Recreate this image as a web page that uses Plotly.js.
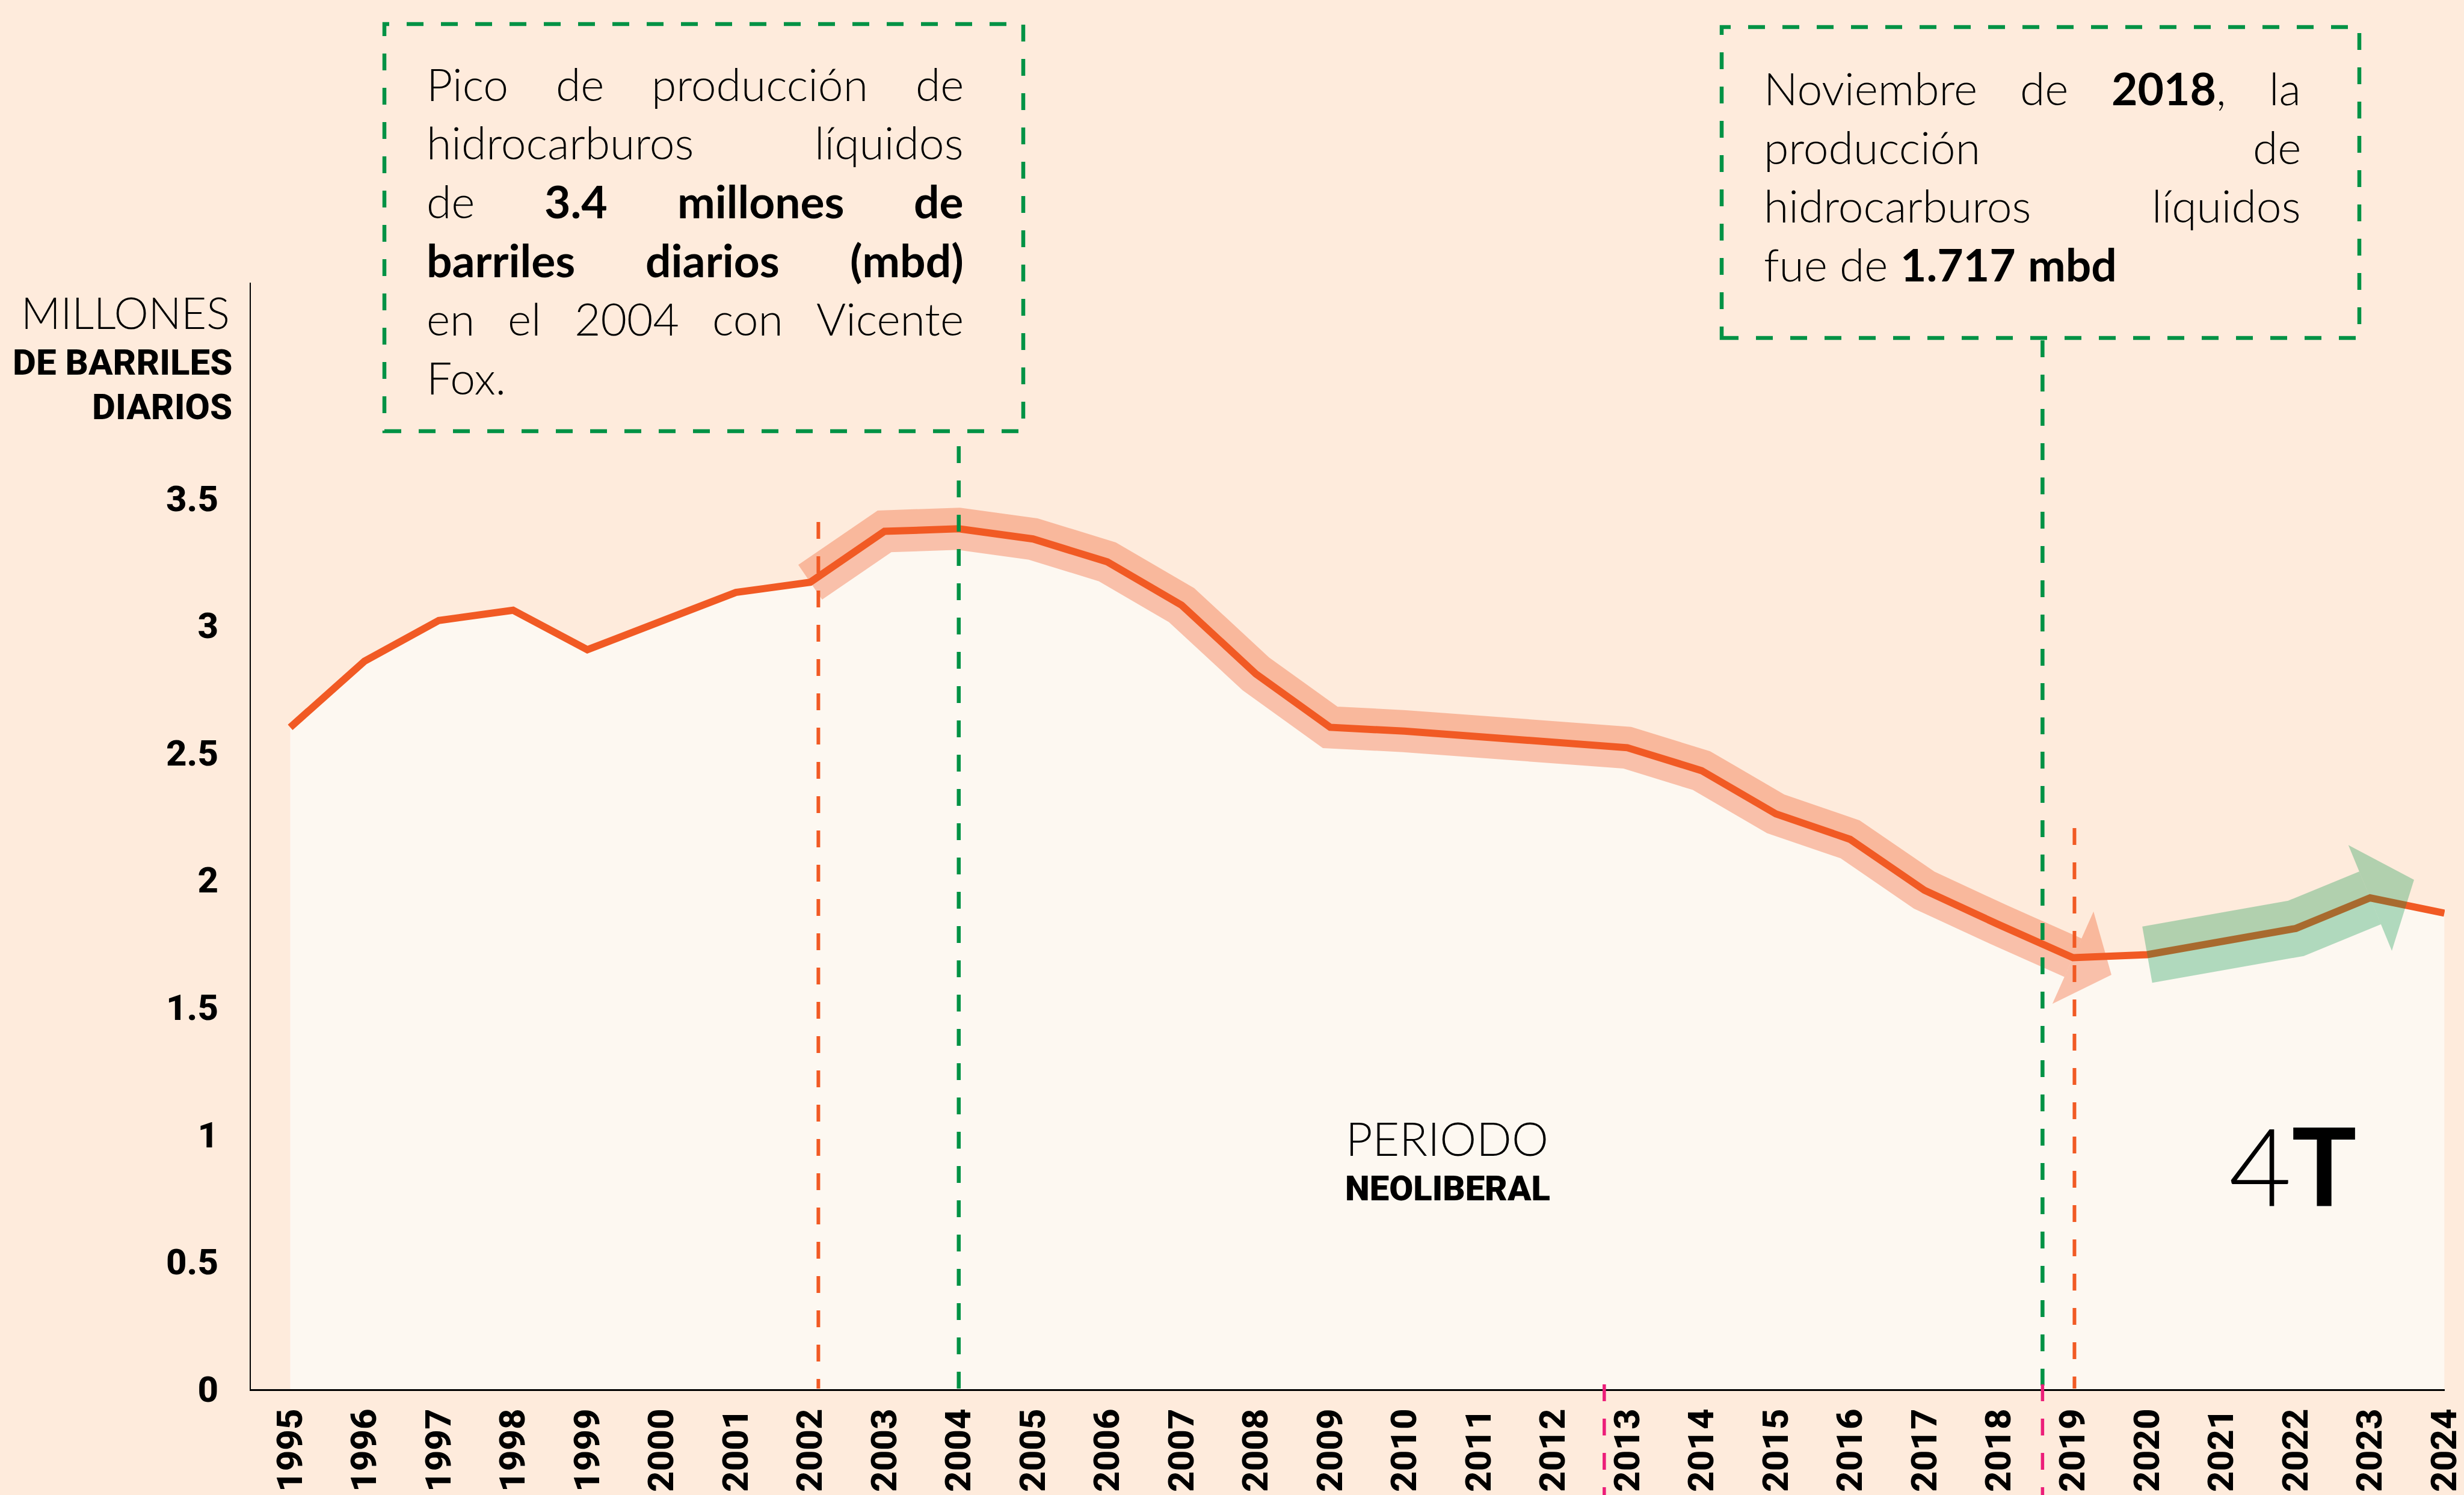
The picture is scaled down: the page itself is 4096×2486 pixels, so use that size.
<!DOCTYPE html>
<html>
<head>
<meta charset="utf-8">
<script src="https://cdn.plot.ly/plotly-3.0.1.min.js"></script>
<style>
html,body{margin:0;padding:0;background:#FEEBDC;overflow:hidden;}
#chart{width:4096px;height:2486px;}
</style>
</head>
<body>
<div id="chart"></div>
<script>
// ---------------- DATA ----------------
const years = [1995,1996,1997,1998,1999,2000,2001,2002,2003,2004,2005,2006,2007,2008,2009,2010,2011,2012,2013,2014,2015,2016,2017,2018,2019,2020,2021,2022,2023,2024];
const production = [2.60,2.86,3.02,3.06,2.905,3.02,3.13,3.17,3.37,3.38,3.34,3.25,3.08,2.81,2.60,2.585,2.565,2.547,2.52,2.43,2.26,2.16,1.96,1.825,1.695,1.707,1.76,1.81,1.93,1.87];
const xTickLabels = ['1995','1996','1997','1998','1999','2000','2001','2002','2003','2004','2005','2006','2007','2008','2009','2010','2011','2012','2013','2014','2015','2016','2017','2018','2019','2020','2021','2022','2023','2024'];
const yTickValues = [0,0.5,1,1.5,2,2.5,3,3.5];
const yTickLabels = ['0','0.5','1','1.5','2','2.5','3','3.5'];
const neoliberalSpan = [2002, 2019];
const cuatroTSpan = [2020, 2023];
const peakNote = ["Pico de producción de", "hidrocarburos líquidos", "de *3.4* *millones* *de*", "*barriles* *diarios* *(mbd)*", "en el 2004 con Vicente", "Fox."];
const novNote = ["Noviembre de *2018*, la", "producción de", "hidrocarburos líquidos", "fue de *1.717* *mbd*"];

// ---------------- STYLE / GEOMETRY ----------------
const W = 4096, H = 2486;
const M = {l:417, r:32, t:470, b:176};
const plotW = W - M.l - M.r, plotH = H - M.t - M.b;
const xRange = [1994.47, 2024.005];
const yRange = [0, 4.347];
const ORANGE = '#F15A24', GREEN = '#009245', PINK = '#EC1E79';
const BG = '#FEEBDC', CREAM = '#FDF8F1';
const FONT = 'Roboto';       // heavy condensed-looking labels
const LIGHT = 'Lato';        // light body text
const DASH = '28px,29px';

const pxX = px => (px - M.l) / plotW;
const pxY = py => (H - M.b - py) / plotH;
const yearToPaper = yr => (yr - xRange[0]) / (xRange[1] - xRange[0]);

function span(arrX, arrY, range) {
  const xs = [], ys = [];
  arrX.forEach((x, i) => { if (x >= range[0] && x <= range[1]) { xs.push(x); ys.push(arrY[i]); } });
  return {x: xs, y: ys};
}

function arrowHead(xs, ys, baseHalf, len) {
  const kx = plotW / (xRange[1] - xRange[0]);
  const ky = plotH / (yRange[1] - yRange[0]);
  const n = xs.length;
  const x1 = xs[n-1], y1 = ys[n-1], x0 = xs[n-2], y0 = ys[n-2];
  let dx = (x1 - x0) * kx, dy = (y1 - y0) * ky;
  const L = Math.hypot(dx, dy); dx /= L; dy /= L;
  const nx = -dy, ny = dx;
  const pts = [[baseHalf*nx, baseHalf*ny], [len*dx, len*dy], [-baseHalf*nx, -baseHalf*ny], [baseHalf*nx, baseHalf*ny]];
  return {x: pts.map(p => x1 + p[0]/kx), y: pts.map(p => y1 + p[1]/ky)};
}

const neo = span(years, production, neoliberalSpan);
const cuatro = span(years, production, cuatroTSpan);
const neoArrow = arrowHead(neo.x, neo.y, 84, 70);
const cuatroArrow = arrowHead(cuatro.x, cuatro.y, 95, 79);

const traces = [
  {x: years, y: production, mode: 'lines', line: {width: 0, color: 'rgba(0,0,0,0)'}, fill: 'tozeroy', fillcolor: CREAM, hoverinfo: 'skip', showlegend: false},
  {x: neo.x, y: neo.y, mode: 'lines', line: {width: 70, color: 'rgba(241,90,36,0.35)'}, hoverinfo: 'skip', showlegend: false},
  {x: neoArrow.x, y: neoArrow.y, mode: 'none', fill: 'toself', fillcolor: 'rgba(241,90,36,0.35)', hoverinfo: 'skip', showlegend: false},
  {x: years, y: production, mode: 'lines', line: {width: 12, color: ORANGE}, showlegend: false},
  {x: cuatro.x, y: cuatro.y, mode: 'lines', line: {width: 95, color: 'rgba(0,146,69,0.3)'}, hoverinfo: 'skip', showlegend: false},
  {x: cuatroArrow.x, y: cuatroArrow.y, mode: 'none', fill: 'toself', fillcolor: 'rgba(0,146,69,0.3)', hoverinfo: 'skip', showlegend: false}
];

// ---------------- TEXT ----------------
const ctx = document.createElement('canvas').getContext('2d');
function runsOf(word) {
  const runs = [];
  word.replace(/\*([^*]+)\*|([^*]+)/g, (m, b, n) => { runs.push(b !== undefined ? {t: b, b: true} : {t: n, b: false}); return m; });
  return runs;
}
function widthOf(runs, size, family) {
  let w = 0;
  runs.forEach(r => { ctx.font = (r.b ? '700 ' : '300 ') + size + 'px ' + family; w += ctx.measureText(r.t).width; });
  return w;
}
const htmlOf = runs => runs.map(r => r.b ? '<b>' + r.t + '</b>' : r.t).join('');

function textBlock(lines, left, right, firstBaseline, lineGap, size, family) {
  const anns = [];
  lines.forEach((line, i) => {
    const words = line.split(' ').map(runsOf);
    const widths = words.map(w => widthOf(w, size, family));
    const total = widths.reduce((a, b) => a + b, 0);
    const isLast = i === lines.length - 1;
    let gap;
    if (!isLast && words.length > 1) gap = (right - left - total) / (words.length - 1);
    else { ctx.font = '300 ' + size + 'px ' + family; gap = ctx.measureText(' ').width; }
    let x = left;
    const baseline = firstBaseline + i * lineGap;
    words.forEach((w, j) => {
      anns.push({text: htmlOf(w), x: pxX(x), y: pxY(baseline - 0.36*size), xref: 'paper', yref: 'paper',
        xanchor: 'left', yanchor: 'middle', showarrow: false, borderpad: 0, borderwidth: 0,
        font: {family: family, size: size, weight: 300, color: '#000'}});
      x += widths[j] + gap;
    });
  });
  return anns;
}

function fitSize(text, weight, family, targetW, base) {
  ctx.font = weight + ' ' + base + 'px ' + family;
  const w = ctx.measureText(text).width;
  return w > 0 ? base * targetW / w : base;
}

function label(text, px, py, anchor, size, weight, family) {
  return {text: text, x: pxX(px), y: pxY(py), xref: 'paper', yref: 'paper', xanchor: anchor, yanchor: 'middle',
    showarrow: false, borderpad: 0, borderwidth: 0, font: {family: family, size: size, weight: weight, color: '#000'}};
}

const millonesSize = Math.min(80, fitSize('MILLONES', 300, LIGHT, 347, 75));
const periodoSize = Math.min(90, fitSize('PERIODO', 300, LIGHT, 337, 82));

const annotations = [].concat(
  textBlock(peakNote, 709, 1602, 165.6, 97.7, 75, LIGHT),
  textBlock(novNote, 2932, 3825, 172.8, 97.8, 75, LIGHT),
  [
    label('MILLONES', 382, 519, 'right', millonesSize, 300, LIGHT),
    label('DE BARRILES', 386, 602, 'right', 60, 800, FONT),
    label('DIARIOS', 386, 676, 'right', 60, 800, FONT),
    label('PERIODO', 2237, 1892, 'left', periodoSize, 300, LIGHT),
    label('NEOLIBERAL', 2236, 1976, 'left', 58, 900, FONT),
    label('4<b>T</b>', 3705, 1936, 'left', 180, 300, LIGHT)
  ]
);

// ---------------- SHAPES ----------------
const guides = [
  {x: 2004, top: 742, bottom: 2309, color: GREEN, width: 6.5},
  {x: 2018.59, top: 566, bottom: 2309, color: GREEN, width: 6.5},
  {x: 2002.11, top: 868, bottom: 2309, color: ORANGE, width: 6},
  {x: 2019.02, top: 1377, bottom: 2309, color: ORANGE, width: 6},
  {x: 2012.69, top: 2302, bottom: 2486, color: PINK, width: 5.5},
  {x: 2018.59, top: 2302, bottom: 2486, color: PINK, width: 5.5}
];
const shapes = [
  {type: 'rect', xref: 'paper', yref: 'paper', x0: pxX(639), x1: pxX(1701), y0: pxY(717), y1: pxY(40),
    line: {color: GREEN, width: 6.5, dash: DASH}, fillcolor: 'rgba(0,0,0,0)', layer: 'above'},
  {type: 'rect', xref: 'paper', yref: 'paper', x0: pxX(2862), x1: pxX(3922), y0: pxY(562), y1: pxY(45),
    line: {color: GREEN, width: 6.5, dash: DASH}, fillcolor: 'rgba(0,0,0,0)', layer: 'above'}
].concat(guides.map(g => ({type: 'line', xref: 'paper', yref: 'paper', x0: yearToPaper(g.x), x1: yearToPaper(g.x),
  y0: pxY(g.top), y1: pxY(g.bottom), line: {color: g.color, width: g.width, dash: DASH}, layer: 'above'})));

const layout = {
  width: W, height: H,
  margin: M,
  paper_bgcolor: BG, plot_bgcolor: BG,
  font: {family: FONT, color: '#000'},
  showlegend: false,
  xaxis: {range: xRange, tickmode: 'array', tickvals: years, ticktext: xTickLabels, tickangle: -90,
    tickfont: {family: FONT, size: 60, weight: 800, color: '#000'}, showline: true, linecolor: '#000', linewidth: 2.5,
    showgrid: false, zeroline: false, ticks: '', ticklabelstandoff: 6, ticklabeloverflow: 'allow', fixedrange: true},
  yaxis: {range: yRange, tickmode: 'array', tickvals: yTickValues, ticktext: yTickLabels,
    tickfont: {family: FONT, size: 60, weight: 800, color: '#000'}, showline: true, linecolor: '#000', linewidth: 2,
    showgrid: false, zeroline: false, ticks: '', ticklabelstandoff: 40, fixedrange: true},
  shapes: shapes,
  annotations: annotations
};

Plotly.newPlot('chart', traces, layout, {displayModeBar: false, staticPlot: true});
</script>
</body>
</html>
